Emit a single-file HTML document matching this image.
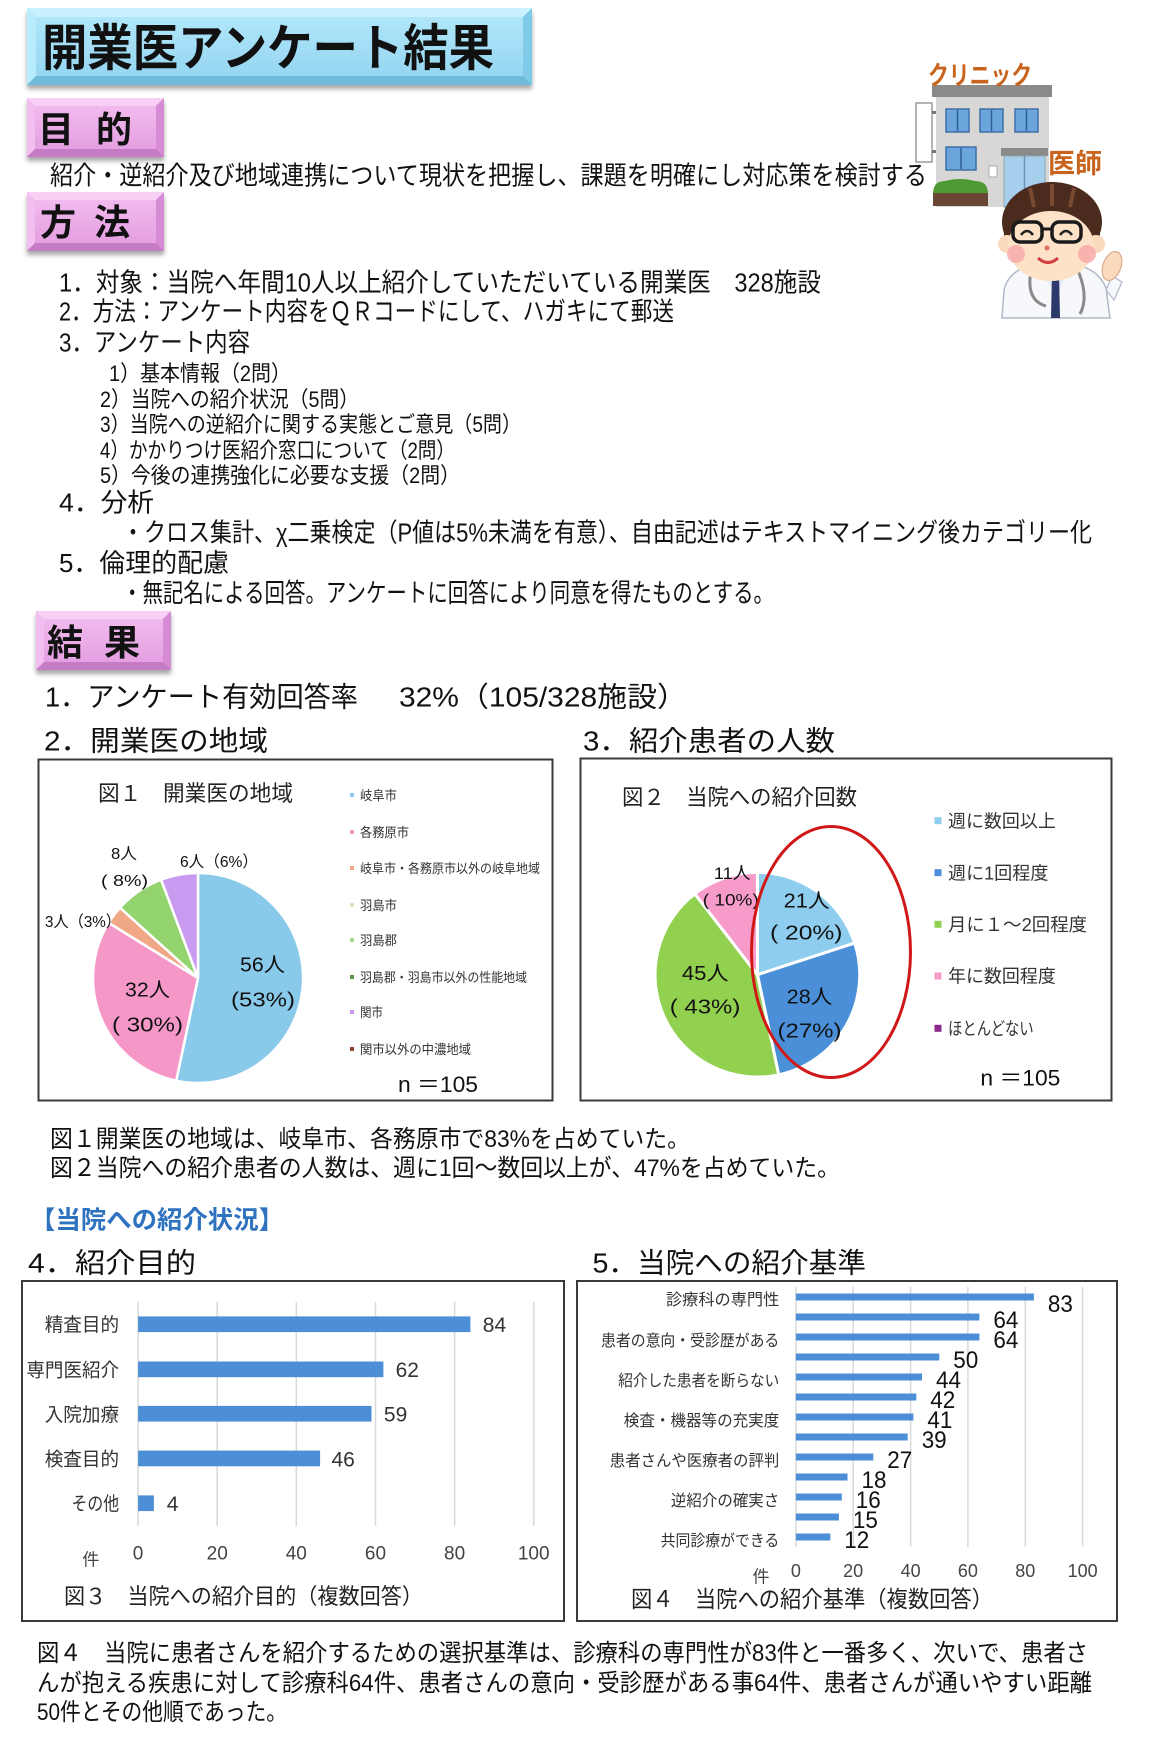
<!DOCTYPE html>
<html lang="ja"><head><meta charset="utf-8"><title>開業医アンケート結果</title>
<style>html,body{margin:0;padding:0;background:#fff;}svg{display:block;}</style></head>
<body>
<svg width="1152" height="1743" viewBox="0 0 1152 1743" xmlns="http://www.w3.org/2000/svg" font-family="'Liberation Sans','Noto Sans CJK JP',sans-serif">
<defs>
<linearGradient id="tg" x1="0" y1="0" x2="0" y2="1"><stop offset="0" stop-color="#b3e8fb"/><stop offset="1" stop-color="#92d4f0"/></linearGradient>
<linearGradient id="pg" x1="0" y1="0" x2="0" y2="1"><stop offset="0" stop-color="#f3bff0"/><stop offset="1" stop-color="#e29ade"/></linearGradient>
<filter id="sh" x="-5%" y="-10%" width="110%" height="140%"><feDropShadow dx="0" dy="4" stdDeviation="2.5" flood-color="#000" flood-opacity="0.35"/></filter>
</defs>
<rect width="1152" height="1743" fill="#fff"/>

<!-- Title box -->
<rect x="27" y="8" width="505" height="77" fill="url(#tg)" filter="url(#sh)"/>
<polygon points="27,8 532,8 523,17 36,17" fill="#c9f2fe"/>
<polygon points="27,8 36,17 36,76 27,85" fill="#b8ebfb"/>
<polygon points="532,8 532,85 523,76 523,17" fill="#80cbe9"/>
<polygon points="27,85 36,76 523,76 532,85" fill="#6fbbdc"/>
<text x="42" y="65.5" font-size="50" font-weight="bold" fill="#111" textLength="452" lengthAdjust="spacingAndGlyphs">開業医アンケート結果</text>

<!-- 目的 -->
<rect x="27" y="98" width="137" height="59" fill="url(#pg)" filter="url(#sh)"/>
<polygon points="27,98 164,98 156,106 35,106" fill="#f8d0f6"/>
<polygon points="27,98 35,106 35,149 27,157" fill="#f2bdef"/>
<polygon points="164,98 164,157 156,149 156,106" fill="#d68cd4"/>
<polygon points="27,157 35,149 156,149 164,157" fill="#c67cc5"/>
<text x="38" y="142" font-size="36" font-weight="bold" fill="#111">目</text>
<text x="96" y="142" font-size="36" font-weight="bold" fill="#111">的</text>

<text x="50" y="184.6" font-size="26" fill="#111" textLength="877" lengthAdjust="spacingAndGlyphs">紹介・逆紹介及び地域連携について現状を把握し、課題を明確にし対応策を検討する</text>

<!-- 方法 -->
<rect x="27" y="192" width="137" height="59" fill="url(#pg)" filter="url(#sh)"/>
<polygon points="27,192 164,192 156,200 35,200" fill="#f8d0f6"/>
<polygon points="27,192 35,200 35,243 27,251" fill="#f2bdef"/>
<polygon points="164,192 164,251 156,243 156,200" fill="#d68cd4"/>
<polygon points="27,251 35,243 156,243 164,251" fill="#c67cc5"/>
<text x="40" y="235" font-size="36" font-weight="bold" fill="#111">方</text>
<text x="94" y="235" font-size="36" font-weight="bold" fill="#111">法</text>

<!-- Methods list -->
<g fill="#111">
<text x="59" y="291.6" font-size="26" textLength="762" lengthAdjust="spacingAndGlyphs">1．対象：当院へ年間10人以上紹介していただいている開業医　328施設</text>
<text x="59" y="320.6" font-size="26" textLength="615" lengthAdjust="spacingAndGlyphs">2．方法：アンケート内容をＱＲコードにして、ハガキにて郵送</text>
<text x="59" y="351.6" font-size="26" textLength="191" lengthAdjust="spacingAndGlyphs">3．アンケート内容</text>
<text x="109" y="381.1" font-size="22" textLength="182" lengthAdjust="spacingAndGlyphs">1）基本情報（2問）</text>
<text x="100" y="407.1" font-size="22" textLength="259" lengthAdjust="spacingAndGlyphs">2）当院への紹介状況（5問）</text>
<text x="100" y="432.1" font-size="22" textLength="421" lengthAdjust="spacingAndGlyphs">3）当院への逆紹介に関する実態とご意見（5問）</text>
<text x="100" y="458.1" font-size="22" textLength="355" lengthAdjust="spacingAndGlyphs">4）かかりつけ医紹介窓口について（2問）</text>
<text x="100" y="483.1" font-size="22" textLength="360" lengthAdjust="spacingAndGlyphs">5）今後の連携強化に必要な支援（2問）</text>
<text x="59" y="511.6" font-size="26" textLength="95" lengthAdjust="spacingAndGlyphs">4．分析</text>
<text x="122" y="541.6" font-size="26" textLength="970" lengthAdjust="spacingAndGlyphs">・クロス集計、χ二乗検定（P値は5%未満を有意）、自由記述はテキストマイニング後カテゴリー化</text>
<text x="59" y="572.1" font-size="26" textLength="170" lengthAdjust="spacingAndGlyphs">5．倫理的配慮</text>
<text x="122" y="602.1" font-size="26" textLength="652" lengthAdjust="spacingAndGlyphs">・無記名による回答。アンケートに回答により同意を得たものとする。</text>
</g>

<!-- 結果 -->
<rect x="36" y="611" width="135" height="59" fill="url(#pg)" filter="url(#sh)"/>
<polygon points="36,611 171,611 163,619 44,619" fill="#f8d0f6"/>
<polygon points="36,611 44,619 44,662 36,670" fill="#f2bdef"/>
<polygon points="171,611 171,670 163,662 163,619" fill="#d68cd4"/>
<polygon points="36,670 44,662 163,662 171,670" fill="#c67cc5"/>
<text x="47" y="655" font-size="36" font-weight="bold" fill="#111">結</text>
<text x="104" y="655" font-size="36" font-weight="bold" fill="#111">果</text>

<g fill="#111">
<text x="45" y="706.4" font-size="28" textLength="313" lengthAdjust="spacingAndGlyphs">1．アンケート有効回答率</text>
<text x="399" y="706.4" font-size="28" textLength="288" lengthAdjust="spacingAndGlyphs">32%（105/328施設）</text>
<text x="44" y="750.4" font-size="28" textLength="224" lengthAdjust="spacingAndGlyphs">2．開業医の地域</text>
<text x="583" y="750.4" font-size="28" textLength="252" lengthAdjust="spacingAndGlyphs">3．紹介患者の人数</text>
</g>

<!-- Illustration -->
<g>
<rect x="916" y="103" width="16" height="59" fill="#fff" stroke="#9a9a9a" stroke-width="1.5"/>
<rect x="932" y="111" width="4" height="3" fill="#777"/><rect x="932" y="150" width="4" height="3" fill="#777"/>
<rect x="936" y="96" width="113" height="111" fill="#d9d7d5"/>
<rect x="932" y="85" width="120" height="12" fill="#8c8a88"/>
<g fill="#6aa5dc" stroke="#3d70a8" stroke-width="1.5">
<rect x="946" y="109" width="23" height="23"/><rect x="980" y="109" width="23" height="23"/><rect x="1015" y="109" width="23" height="23"/>
<rect x="946" y="147" width="30" height="23"/>
</g>
<g stroke="#2f5f95" stroke-width="1.5"><line x1="957.5" y1="110" x2="957.5" y2="131"/><line x1="991.5" y1="110" x2="991.5" y2="131"/><line x1="1026.5" y1="110" x2="1026.5" y2="131"/><line x1="961" y1="148" x2="961" y2="169"/></g>
<rect x="1001" y="148" width="47" height="8" fill="#8c8a88"/>
<rect x="1004" y="156" width="41" height="51" fill="#a6cfee" stroke="#8aa" stroke-width="1"/>
<line x1="1024.5" y1="156" x2="1024.5" y2="207" stroke="#6f93b5" stroke-width="1.5"/>
<rect x="989" y="166" width="8" height="11" fill="#fff" stroke="#aaa" stroke-width="1"/>
<path d="M933,194 Q933,181 945,181 Q960,177 975,181 Q988,181 988,194 Z" fill="#4f9a35"/>
<rect x="933" y="193" width="55" height="13" fill="#6a4636"/>
<text x="928" y="84.6" font-size="26" font-weight="bold" fill="#c8641e" textLength="104" lengthAdjust="spacingAndGlyphs">クリニック</text>
<text x="1048" y="173" font-size="27" font-weight="bold" fill="#c8641e" textLength="54" lengthAdjust="spacingAndGlyphs">医師</text>
<!-- doctor -->
<path d="M1002,318 L1004,290 Q1009,268 1040,263 L1068,263 Q1098,267 1106,288 L1110,318 Z" fill="#f7f8fb" stroke="#b0b8c8" stroke-width="1.5"/>
<path d="M1106,290 L1112,276 L1122,282 L1114,300 Z" fill="#f7f8fb" stroke="#b0b8c8" stroke-width="1.2"/>
<ellipse cx="1112" cy="266" rx="9" ry="15" fill="#fbd9bd" stroke="#d4a080" stroke-width="1" transform="rotate(20 1112 266)"/>
<path d="M1040,264 L1056,300 L1070,264 Z" fill="#e6edf8"/>
<path d="M1052,272 L1059,272 L1060,318 L1051,318 Z" fill="#2b3a6b"/>
<path d="M1032,266 Q1024,300 1046,306 M1076,266 Q1090,296 1080,314" stroke="#8a8a8a" stroke-width="3" fill="none"/>
<rect x="1043" y="258" width="20" height="10" fill="#fbd9bd"/>
<ellipse cx="1052" cy="222" rx="50" ry="40" fill="#4a2b1e"/>
<circle cx="1007" cy="244" r="9" fill="#fbd9bd"/><circle cx="1096" cy="244" r="9" fill="#fbd9bd"/>
<ellipse cx="1051" cy="246" rx="43" ry="35" fill="#fde2c8"/>
<path d="M1004,236 Q1002,185 1052,182 Q1102,185 1100,236 L1093,228 Q1090,209 1052,208 Q1014,209 1011,228 Z" fill="#4a2b1e"/>
<path d="M1030,188 L1034,207 M1052,184 L1052,206 M1074,188 L1070,207" stroke="#7a4a30" stroke-width="4"/>
<rect x="1013" y="222" width="29" height="20" rx="7" fill="none" stroke="#1a1a1a" stroke-width="3.5"/>
<rect x="1052" y="222" width="29" height="20" rx="7" fill="none" stroke="#1a1a1a" stroke-width="3.5"/>
<line x1="1042" y1="229" x2="1052" y2="229" stroke="#1a1a1a" stroke-width="3"/>
<path d="M1021,235 Q1027,227 1033,235 M1060,235 Q1066,227 1072,235" stroke="#222" stroke-width="2.5" fill="none"/>
<circle cx="1016" cy="254" r="9" fill="#f7a8a8" opacity="0.8"/><circle cx="1087" cy="254" r="9" fill="#f7a8a8" opacity="0.8"/>
<circle cx="1047" cy="248" r="2.5" fill="#e07060"/>
<path d="M1038,258 Q1048,267 1058,258" stroke="#d04040" stroke-width="3" fill="none"/>
</g>

<!-- Chart 1 -->
<rect x="38.5" y="759.5" width="514" height="341" fill="#fff" stroke="#3a3a3a" stroke-width="2"/>
<text x="98" y="801.1" font-size="22" fill="#222" textLength="195" lengthAdjust="spacingAndGlyphs">図１　開業医の地域</text>
<g stroke="#fff" stroke-width="2.5">
<path d="M198,978 L198,873 A105,105 0 1 1 176.2,1080.7 Z" fill="#89c9e9"/>
<path d="M198,978 L176.2,1080.7 A105,105 0 0 1 108.7,922.8 Z" fill="#f598c8"/>
<path d="M198,978 L108.7,922.8 A105,105 0 0 1 120.0,907.7 Z" fill="#efa785"/>
<path d="M198,978 L120.0,907.7 A105,105 0 0 1 161.1,879.7 Z" fill="#94d46f"/>
<path d="M198,978 L161.1,879.7 A105,105 0 0 1 198,873 Z" fill="#c89bf1"/>
</g>
<g fill="#111">
<text x="240" y="971.4" font-size="20" textLength="45" lengthAdjust="spacingAndGlyphs">56人</text>
<text x="231" y="1006.4" font-size="20" textLength="64" lengthAdjust="spacingAndGlyphs">(53%)</text>
<text x="125" y="996.4" font-size="20" textLength="45" lengthAdjust="spacingAndGlyphs">32人</text>
<text x="112" y="1031.4" font-size="20" textLength="71" lengthAdjust="spacingAndGlyphs">( 30%)</text>
<text x="111" y="858.9" font-size="16" textLength="26" lengthAdjust="spacingAndGlyphs">8人</text>
<text x="101" y="885.9" font-size="16" textLength="47" lengthAdjust="spacingAndGlyphs">( 8%)</text>
<text x="180" y="866.9" font-size="16" textLength="78" lengthAdjust="spacingAndGlyphs">6人（6%）</text>
<text x="45" y="926.9" font-size="16" textLength="76" lengthAdjust="spacingAndGlyphs">3人（3%）</text>
<text x="398" y="1092.1" font-size="22" textLength="80" lengthAdjust="spacingAndGlyphs">n ＝105</text>
</g>
<g>
<rect x="350" y="793" width="4" height="4" fill="#89c9e9"/>
<rect x="350" y="830" width="4" height="4" fill="#f598c8"/>
<rect x="350" y="866" width="4" height="4" fill="#efa785"/>
<rect x="350" y="903" width="4" height="4" fill="#cfe8c0"/>
<rect x="350" y="938" width="4" height="4" fill="#a8d890"/>
<rect x="350" y="975" width="4" height="4" fill="#5a9a48"/>
<rect x="350" y="1010" width="4" height="4" fill="#c89bf1"/>
<rect x="350" y="1047" width="4" height="4" fill="#8b4a2a"/>
</g>
<g fill="#333" font-size="13">
<text x="360" y="799.8" textLength="37" lengthAdjust="spacingAndGlyphs">岐阜市</text>
<text x="360" y="836.8" textLength="49" lengthAdjust="spacingAndGlyphs">各務原市</text>
<text x="360" y="872.8" textLength="180" lengthAdjust="spacingAndGlyphs">岐阜市・各務原市以外の岐阜地域</text>
<text x="360" y="909.8" textLength="37" lengthAdjust="spacingAndGlyphs">羽島市</text>
<text x="360" y="944.8" textLength="37" lengthAdjust="spacingAndGlyphs">羽島郡</text>
<text x="360" y="981.8" textLength="167" lengthAdjust="spacingAndGlyphs">羽島郡・羽島市以外の性能地域</text>
<text x="360" y="1016.8" textLength="23" lengthAdjust="spacingAndGlyphs">関市</text>
<text x="360" y="1053.8" textLength="111" lengthAdjust="spacingAndGlyphs">関市以外の中濃地域</text>
</g>

<!-- Chart 2 -->
<rect x="580.5" y="758.5" width="531" height="342" fill="#fff" stroke="#3a3a3a" stroke-width="2"/>
<text x="622" y="804.8" font-size="22" fill="#222" textLength="235" lengthAdjust="spacingAndGlyphs">図２　当院への紹介回数</text>
<g stroke="#fff" stroke-width="3">
<path d="M757.4,974.7 L757.4,872.4 A102.3,102.3 0 0 1 854.7,943.1 Z" fill="#8ecdee"/>
<path d="M757.4,974.7 L854.7,943.1 A102.3,102.3 0 0 1 778.7,1074.8 Z" fill="#4a8fd8"/>
<path d="M757.4,974.7 L778.7,1074.8 A102.3,102.3 0 0 1 694.8,893.8 Z" fill="#92d050"/>
<path d="M757.4,974.7 L694.8,893.8 A102.3,102.3 0 0 1 757.4,872.4 Z" fill="#f79bcb"/>
</g>
<g fill="#111">
<text x="783.7" y="907.4" font-size="20" textLength="46" lengthAdjust="spacingAndGlyphs">21人</text>
<text x="770" y="939.7" font-size="20" textLength="72.5" lengthAdjust="spacingAndGlyphs">( 20%)</text>
<text x="786.7" y="1003.4" font-size="20" textLength="45.6" lengthAdjust="spacingAndGlyphs">28人</text>
<text x="777.5" y="1037.4" font-size="20" textLength="64" lengthAdjust="spacingAndGlyphs">(27%)</text>
<text x="681.9" y="980.1" font-size="20" textLength="46.7" lengthAdjust="spacingAndGlyphs">45人</text>
<text x="669.8" y="1013.4" font-size="20" textLength="70.5" lengthAdjust="spacingAndGlyphs">( 43%)</text>
<text x="713.9" y="879" font-size="17" textLength="36.7" lengthAdjust="spacingAndGlyphs">11人</text>
<text x="702.8" y="905.6" font-size="17" textLength="56" lengthAdjust="spacingAndGlyphs">( 10%)</text>
<text x="980.4" y="1085.4" font-size="22" textLength="80" lengthAdjust="spacingAndGlyphs">n ＝105</text>
</g>
<ellipse cx="831" cy="952" rx="79.5" ry="125.5" fill="none" stroke="#d01818" stroke-width="3"/>
<g>
<rect x="934.5" y="817.2" width="7" height="7" fill="#8ecdee"/>
<rect x="934.5" y="869.2" width="7" height="7" fill="#4a8fd8"/>
<rect x="934.5" y="920.8" width="7" height="7" fill="#92d050"/>
<rect x="934.5" y="972.5" width="7" height="7" fill="#f79bcb"/>
<rect x="934.5" y="1024.8" width="7" height="7" fill="#8b2a8b"/>
</g>
<g fill="#333" font-size="18">
<text x="948" y="827.4" textLength="107.8" lengthAdjust="spacingAndGlyphs">週に数回以上</text>
<text x="948" y="879.4" textLength="100.4" lengthAdjust="spacingAndGlyphs">週に1回程度</text>
<text x="948" y="931" textLength="139" lengthAdjust="spacingAndGlyphs">月に１～2回程度</text>
<text x="948" y="982.7" textLength="107.8" lengthAdjust="spacingAndGlyphs">年に数回程度</text>
<text x="948" y="1035" textLength="85.7" lengthAdjust="spacingAndGlyphs">ほとんどない</text>
</g>

<g fill="#111">
<text x="50" y="1146.9" font-size="24" textLength="640" lengthAdjust="spacingAndGlyphs">図１開業医の地域は、岐阜市、各務原市で83%を占めていた。</text>
<text x="50" y="1175.9" font-size="24" textLength="790" lengthAdjust="spacingAndGlyphs">図２当院への紹介患者の人数は、週に1回～数回以上が、47%を占めていた。</text>
</g>
<text x="30" y="1228.3" font-size="25" font-weight="bold" fill="#2e72c0" textLength="254" lengthAdjust="spacingAndGlyphs">【当院への紹介状況】</text>
<g fill="#111">
<text x="28" y="1272.4" font-size="28" textLength="168" lengthAdjust="spacingAndGlyphs">4．紹介目的</text>
<text x="592.5" y="1272.4" font-size="28" textLength="273.5" lengthAdjust="spacingAndGlyphs">5．当院への紹介基準</text>
</g>

<!-- Chart 3 -->
<rect x="22" y="1281" width="542" height="340" fill="#fff" stroke="#3a3a3a" stroke-width="2"/>
<g stroke="#d9d9d9" stroke-width="1.5">
<line x1="138.1" y1="1302" x2="138.1" y2="1526"/><line x1="217.2" y1="1302" x2="217.2" y2="1526"/><line x1="296.3" y1="1302" x2="296.3" y2="1526"/>
<line x1="375.5" y1="1302" x2="375.5" y2="1526"/><line x1="454.6" y1="1302" x2="454.6" y2="1526"/><line x1="533.7" y1="1302" x2="533.7" y2="1526"/>
</g>
<g fill="#4d8fd6">
<rect x="138.1" y="1316.4" width="332.3" height="15.7"/>
<rect x="138.1" y="1361.5" width="245.3" height="15.7"/>
<rect x="138.1" y="1405.9" width="233.4" height="15.7"/>
<rect x="138.1" y="1450.6" width="182.0" height="15.7"/>
<rect x="138.1" y="1495.4" width="15.8" height="15.7"/>
</g>
<g fill="#333" font-size="19">
<text x="44.7" y="1331.2" textLength="74.4" lengthAdjust="spacingAndGlyphs">精査目的</text>
<text x="26.4" y="1376.4" textLength="92.7" lengthAdjust="spacingAndGlyphs">専門医紹介</text>
<text x="44.7" y="1420.8" textLength="74.4" lengthAdjust="spacingAndGlyphs">入院加療</text>
<text x="44.7" y="1465.5" textLength="74.4" lengthAdjust="spacingAndGlyphs">検査目的</text>
<text x="71.5" y="1510.2" textLength="47.6" lengthAdjust="spacingAndGlyphs">その他</text>
</g>
<g fill="#333" font-size="21">
<text x="482.8" y="1332">84</text>
<text x="395.6" y="1377.2">62</text>
<text x="383.9" y="1421.6">59</text>
<text x="331.5" y="1466.3">46</text>
<text x="166.7" y="1511">4</text>
</g>
<g fill="#444" font-size="19" text-anchor="middle">
<text x="138.1" y="1559.5">0</text><text x="217.2" y="1559.5">20</text><text x="296.3" y="1559.5">40</text>
<text x="375.5" y="1559.5">60</text><text x="454.6" y="1559.5">80</text><text x="533.7" y="1559.5">100</text>
</g>
<text x="82.4" y="1565.3" font-size="17" fill="#444">件</text>
<text x="64" y="1604.1" font-size="22" fill="#222" textLength="359" lengthAdjust="spacingAndGlyphs">図３　当院への紹介目的（複数回答）</text>

<!-- Chart 4 -->
<rect x="577" y="1281" width="540" height="340" fill="#fff" stroke="#3a3a3a" stroke-width="2"/>
<g stroke="#d9d9d9" stroke-width="1.5">
<line x1="795.9" y1="1287" x2="795.9" y2="1547"/><line x1="853.2" y1="1287" x2="853.2" y2="1547"/><line x1="910.6" y1="1287" x2="910.6" y2="1547"/>
<line x1="967.9" y1="1287" x2="967.9" y2="1547"/><line x1="1025.3" y1="1287" x2="1025.3" y2="1547"/><line x1="1082.6" y1="1287" x2="1082.6" y2="1547"/>
</g>
<g fill="#4d8fd6">
<rect x="795.9" y="1293.5" width="238.0" height="7"/>
<rect x="795.9" y="1313.5" width="183.5" height="7"/>
<rect x="795.9" y="1333.5" width="183.5" height="7"/>
<rect x="795.9" y="1353.5" width="143.4" height="7"/>
<rect x="795.9" y="1373.5" width="126.1" height="7"/>
<rect x="795.9" y="1393.5" width="120.4" height="7"/>
<rect x="795.9" y="1413.5" width="117.5" height="7"/>
<rect x="795.9" y="1433.5" width="111.8" height="7"/>
<rect x="795.9" y="1453.5" width="77.4" height="7"/>
<rect x="795.9" y="1473.5" width="51.6" height="7"/>
<rect x="795.9" y="1493.5" width="45.9" height="7"/>
<rect x="795.9" y="1513.5" width="43.0" height="7"/>
<rect x="795.9" y="1533.5" width="34.4" height="7"/>
</g>
<g fill="#111" font-size="24">
<text x="1047.9" y="1311.9" textLength="25" lengthAdjust="spacingAndGlyphs">83</text>
<text x="993.4" y="1327.9" textLength="25" lengthAdjust="spacingAndGlyphs">64</text>
<text x="993.4" y="1347.9" textLength="25" lengthAdjust="spacingAndGlyphs">64</text>
<text x="953.3" y="1367.9" textLength="25" lengthAdjust="spacingAndGlyphs">50</text>
<text x="936.0" y="1387.9" textLength="25" lengthAdjust="spacingAndGlyphs">44</text>
<text x="930.3" y="1407.9" textLength="25" lengthAdjust="spacingAndGlyphs">42</text>
<text x="927.4" y="1427.9" textLength="25" lengthAdjust="spacingAndGlyphs">41</text>
<text x="921.7" y="1447.9" textLength="25" lengthAdjust="spacingAndGlyphs">39</text>
<text x="887.3" y="1467.9" textLength="25" lengthAdjust="spacingAndGlyphs">27</text>
<text x="861.5" y="1487.9" textLength="25" lengthAdjust="spacingAndGlyphs">18</text>
<text x="855.8" y="1507.9" textLength="25" lengthAdjust="spacingAndGlyphs">16</text>
<text x="852.9" y="1527.9" textLength="25" lengthAdjust="spacingAndGlyphs">15</text>
<text x="844.3" y="1547.9" textLength="25" lengthAdjust="spacingAndGlyphs">12</text>
</g>
<g fill="#333" font-size="16">
<text x="666" y="1304.9" textLength="113.3" lengthAdjust="spacingAndGlyphs">診療科の専門性</text>
<text x="601" y="1345.9" textLength="178.3" lengthAdjust="spacingAndGlyphs">患者の意向・受診歴がある</text>
<text x="618.3" y="1385.9" textLength="161" lengthAdjust="spacingAndGlyphs">紹介した患者を断らない</text>
<text x="623.8" y="1425.9" textLength="155.5" lengthAdjust="spacingAndGlyphs">検査・機器等の充実度</text>
<text x="609.8" y="1465.9" textLength="169.5" lengthAdjust="spacingAndGlyphs">患者さんや医療者の評判</text>
<text x="670.9" y="1505.9" textLength="108.4" lengthAdjust="spacingAndGlyphs">逆紹介の確実さ</text>
<text x="660.6" y="1545.9" textLength="118.7" lengthAdjust="spacingAndGlyphs">共同診療ができる</text>
</g>
<g fill="#444" font-size="18" text-anchor="middle">
<text x="795.9" y="1577">0</text><text x="853.2" y="1577">20</text><text x="910.6" y="1577">40</text>
<text x="967.9" y="1577">60</text><text x="1025.3" y="1577">80</text><text x="1082.6" y="1577">100</text>
</g>
<text x="752.5" y="1582.3" font-size="17" fill="#444">件</text>
<text x="631" y="1607.2" font-size="23" fill="#222" textLength="362" lengthAdjust="spacingAndGlyphs">図４　当院への紹介基準（複数回答）</text>

<!-- Bottom paragraph -->
<g fill="#111" font-size="24">
<text x="37" y="1660.9" textLength="1051" lengthAdjust="spacingAndGlyphs">図４　当院に患者さんを紹介するための選択基準は、診療科の専門性が83件と一番多く、次いで、患者さ</text>
<text x="37" y="1690.9" textLength="1055" lengthAdjust="spacingAndGlyphs">んが抱える疾患に対して診療科64件、患者さんの意向・受診歴がある事64件、患者さんが通いやすい距離</text>
<text x="37" y="1719.9" textLength="250" lengthAdjust="spacingAndGlyphs">50件とその他順であった。</text>
</g>
</svg>
</body></html>
